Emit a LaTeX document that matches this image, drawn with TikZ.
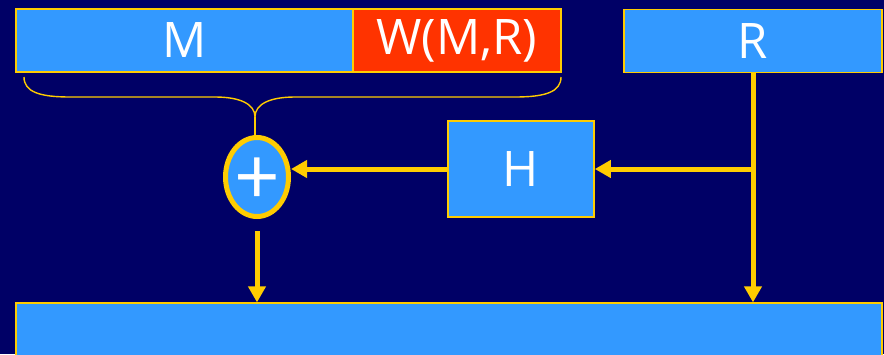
\documentclass[tikz,border=0pt]{standalone}
\usepackage{fontspec}
\setmainfont{Open Sans}
\usetikzlibrary{arrows.meta,shapes.geometric,calc}
\definecolor{navy}{HTML}{000066}
\definecolor{boxblue}{HTML}{3399FF}
\definecolor{gold}{HTML}{FFCC00}
\definecolor{wred}{HTML}{FF3300}
\tikzset{
  blk/.style={draw=gold, line width=1.6pt, fill=boxblue, inner sep=0pt,
    text=white, font=\fontsize{49}{52}\selectfont},
  flow/.style={draw=gold, line width=5pt,
    -{Triangle[length=16pt,width=17pt]}},
  feed/.style={draw=gold, line width=5pt},
}
\begin{document}
\begin{tikzpicture}[x=1pt,y=-1pt]
  \fill[navy] (0,0) rectangle (884,354);
  \useasboundingbox (0,0) rectangle (884,354);

  % top row: message, watermark, randomness
  \node[blk, minimum width=337pt, minimum height=63pt] (M) at (184.5,40.5) {M};
  \node[blk, fill=wred, minimum width=208pt, minimum height=63pt] (W) at (457,40.5) {W(M,R)};
  \node[blk, minimum width=258pt, minimum height=63pt] (R) at (753,41) {R};

  % hash and combiner
  \node[blk, minimum width=146pt, minimum height=96pt] (H) at (521,169) {H};
  \node[blk, ellipse, line width=5pt, minimum width=63pt, minimum height=79pt]
    (sum) at (257,177) {};
  \node[text=white, inner sep=0pt, font=\fontsize{80}{80}\selectfont]
    (plus) at ($(sum.center)+(0,5)$) {+};

  % output block
  \node[draw=gold, line width=1.2pt, fill=boxblue, inner sep=0pt,
        minimum width=866pt, minimum height=60pt] (out) at (449,333) {};

  % brace under M and W(M,R)
  \coordinate (bl) at (24,77);
  \coordinate (br) at (561,77);
  \coordinate (tip) at (255,117);
  \draw[gold, line width=1.4pt]
    (bl) .. controls (24,92) and (40,97) .. (70,97) -- (215,97)
         .. controls (240,97) and (255,104) .. (tip)
         .. controls (255,104) and (270,97) .. (295,97) -- (515,97)
         .. controls (545,97) and (561,92) .. (br);
  \draw[gold, line width=1.4pt] (tip) -- (tip |- sum.north);

  % connectors
  \coordinate (j) at (R.south |- H.east);
  \draw[feed] (R.south) -- (j);
  \draw[flow] (j) -- (R.south |- out.north);
  \draw[flow] (j) -- (H.east);
  \draw[flow] (H.west) -- (H.west -| sum.east);
  \draw[flow, shorten <=12pt] (sum.south) -- (sum.south |- out.north);
\end{tikzpicture}
\end{document}
